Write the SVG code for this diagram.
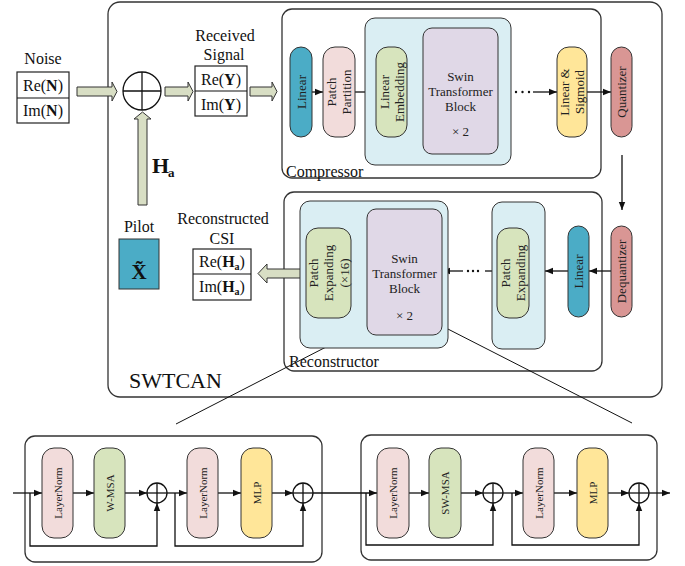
<svg xmlns="http://www.w3.org/2000/svg" width="685" height="566" viewBox="0 0 685 566">
<defs>
<marker id="ah" markerWidth="8" markerHeight="8" refX="8" refY="4" orient="auto" markerUnits="userSpaceOnUse"><path d="M0,0.8 L8,4 L0,7.2 z" fill="#111"/></marker>
</defs>
<style>
text{font-family:"Liberation Serif","Times New Roman",serif;fill:#111}
.t16{font-size:16px}
.c{text-anchor:middle}
.pill{stroke:#333;stroke-width:1}
.blue{fill:#4BACC6}
.pink{fill:#F2DCDB}
.green{fill:#D7E4BD}
.purple{fill:#E0D8E7}
.yellow{fill:#FFE699}
.red{fill:#D99694}
.lb{fill:#DAEEF3;stroke:#333;stroke-width:1}
.frame{fill:none;stroke:#333;stroke-width:1.3}
.box{fill:#fff;stroke:#222;stroke-width:1.2}
.ln{stroke:#111;stroke-width:1.3;fill:none}
.ar{stroke:#111;stroke-width:1.3;fill:none;marker-end:url(#ah)}
.barrow{fill:#D8DEC4;stroke:#333;stroke-width:1}
.pt{font-size:13px;text-anchor:middle;fill:#222}
.bt{font-size:11px;text-anchor:middle;fill:#222}
.sum{fill:#fff;stroke:#111;stroke-width:1.3}
</style>

<!-- frames -->
<g id="swtcan">
<rect class="frame" x="108" y="2" width="554" height="395" rx="12"/>
<text x="129" y="388" style="font-size:22px">SWTCAN</text>
</g>
<g id="compressor">
<rect class="frame" x="282" y="9" width="319" height="169" rx="10"/>
<text class="t16" x="286" y="177">Compressor</text>
</g>
<g id="reconstructor">
<rect class="frame" x="284" y="192" width="318" height="179" rx="10"/>
<text class="t16" x="289" y="367">Reconstructor</text>
</g>
<g id="block1-frame"><rect class="frame" x="25" y="436" width="297" height="126" rx="10"/></g>
<g id="block2-frame"><rect class="frame" x="361" y="435" width="296" height="125" rx="10"/></g>

<!-- connectors -->
<g id="connectors">
<path class="barrow" d="M77,87 H112 V82 L117,91.5 L112,101 V96 H77 Z"/>
<path class="barrow" d="M165,87 H188 V82 L193,91.5 L188,101 V96 H165 Z"/>
<path class="barrow" d="M250,87 H272 V82 L277,91.5 L272,101 V96 H250 Z"/>
<path class="barrow" d="M138,205 V119 H134 L142.5,112 L151,119 H147 V205 Z"/>
<!-- compressor arrows -->
<line class="ar" x1="312" y1="92" x2="323" y2="92"/>
<line class="ar" x1="355" y1="92" x2="376" y2="92"/>
<line class="ar" x1="407" y1="92" x2="423" y2="92"/>
<circle cx="516" cy="92" r="1.2" fill="#111"/><circle cx="522.5" cy="92" r="1.2" fill="#111"/><circle cx="529" cy="92" r="1.2" fill="#111"/>
<line class="ar" x1="533" y1="92" x2="557" y2="92"/>
<line class="ar" x1="587" y1="92" x2="611" y2="92"/>
<line class="ar" x1="622" y1="155" x2="622" y2="210"/>
<!-- reconstructor arrows -->
<line class="ar" x1="611" y1="271" x2="589" y2="271"/>
<line class="ar" x1="568" y1="271" x2="545" y2="271"/>
<line class="ln" x1="492" y1="271" x2="485" y2="271"/>
<circle cx="478" cy="271" r="1.2" fill="#111"/><circle cx="473" cy="271" r="1.2" fill="#111"/><circle cx="468" cy="271" r="1.2" fill="#111"/>
<line class="ar" x1="463" y1="271" x2="442" y2="271"/>
<line class="ar" x1="367" y1="271" x2="351" y2="271"/>
<path class="barrow" d="M308,269 H267 V264 L258,273.5 L267,283 V278 H308 Z"/>
<!-- zoom lines -->
<line class="ln" x1="367" y1="326" x2="176" y2="424" style="stroke-width:1"/>
<line class="ln" x1="442" y1="326" x2="632" y2="423" style="stroke-width:1"/>
<!-- block 1 -->
<line class="ar" x1="13" y1="493" x2="42" y2="493"/>
<path class="ar" d="M30,493 V546 H157 V503"/>
<line class="ar" x1="73" y1="493" x2="94" y2="493"/>
<line class="ar" x1="125" y1="493" x2="147" y2="493"/>
<line class="ar" x1="167" y1="493" x2="187" y2="493"/>
<path class="ar" d="M175,493 V546 H303 V503"/>
<line class="ar" x1="218" y1="493" x2="241" y2="493"/>
<line class="ar" x1="272" y1="493" x2="293" y2="493"/>
<line class="ar" x1="313" y1="493" x2="377" y2="493"/>
<!-- block 2 -->
<path class="ar" d="M366,493 V545 H493 V503"/>
<line class="ar" x1="409" y1="493" x2="429" y2="493"/>
<line class="ar" x1="461" y1="493" x2="483" y2="493"/>
<line class="ar" x1="503" y1="493" x2="523" y2="493"/>
<path class="ar" d="M512,493 V545 H639 V503"/>
<line class="ar" x1="554" y1="493" x2="577" y2="493"/>
<line class="ar" x1="608" y1="493" x2="629" y2="493"/>
<line class="ar" x1="649" y1="493" x2="670" y2="493"/>
</g>

<!-- inputs / outputs -->
<g id="noise">
<text class="t16 c" x="43" y="64">Noise</text>
<rect class="box" x="17" y="72" width="52" height="51"/>
<line class="ln" x1="17" y1="98" x2="69" y2="98" style="stroke-width:1.2"/>
<text class="t16 c" x="43" y="91">Re(<tspan font-weight="bold">N</tspan>)</text>
<text class="t16 c" x="43" y="116">Im(<tspan font-weight="bold">N</tspan>)</text>
</g>
<g id="adder">
<circle class="sum" cx="142" cy="91" r="19"/>
<line class="ln" x1="123" y1="91" x2="161" y2="91"/>
<line class="ln" x1="142" y1="72" x2="142" y2="110"/>
</g>
<g id="ha-label">
<text x="152" y="173" style="font-size:22px;font-weight:bold">H</text>
<text x="168" y="177" style="font-size:13px;font-weight:bold">a</text>
</g>
<g id="received">
<text class="t16 c" x="225" y="41">Received</text>
<text class="t16 c" x="224" y="60">Signal</text>
<rect class="box" x="195" y="66" width="52" height="50"/>
<line class="ln" x1="195" y1="91" x2="247" y2="91" style="stroke-width:1.2"/>
<text class="t16 c" x="221" y="85">Re(<tspan font-weight="bold">Y</tspan>)</text>
<text class="t16 c" x="221" y="110">Im(<tspan font-weight="bold">Y</tspan>)</text>
</g>
<g id="pilot">
<text class="t16 c" x="139" y="232">Pilot</text>
<rect x="119" y="239" width="40" height="50" fill="#4BACC6" stroke="#333" stroke-width="1"/>
<text class="c" x="139" y="279" style="font-size:21px;font-weight:bold">X̃</text>
</g>
<g id="csi">
<text class="t16 c" x="223" y="224">Reconstructed</text>
<text class="t16 c" x="222" y="244">CSI</text>
<rect class="box" x="193" y="249" width="58" height="51"/>
<line class="ln" x1="193" y1="274" x2="251" y2="274" style="stroke-width:1.2"/>
<text class="t16 c" x="222" y="267">Re(<tspan font-weight="bold">H</tspan><tspan font-weight="bold" font-size="10" dy="3">a</tspan><tspan dy="-3">)</tspan></text>
<text class="t16 c" x="222" y="292">Im(<tspan font-weight="bold">H</tspan><tspan font-weight="bold" font-size="10" dy="3">a</tspan><tspan dy="-3">)</tspan></text>
</g>

<!-- compressor nodes -->
<g id="c-lb"><rect class="lb" x="365" y="18" width="146" height="147" rx="10"/></g>
<g id="c-linear">
<rect class="pill blue" x="290" y="47" width="22" height="90" rx="11"/>
<text class="pt" transform="translate(301,92) rotate(-90)" y="4.5">Linear</text>
</g>
<g id="c-patch-partition">
<rect class="pill pink" x="323" y="47" width="32" height="90" rx="12"/>
<text class="pt" transform="translate(339,92) rotate(-90)"><tspan x="0" y="-3">Patch</tspan><tspan x="0" y="12">Partition</tspan></text>
</g>
<g id="c-linear-embedding">
<rect class="pill green" x="376" y="47" width="31" height="90" rx="12"/>
<text class="pt" transform="translate(391.5,92) rotate(-90)"><tspan x="0" y="-3">Linear</tspan><tspan x="0" y="12">Embedding</tspan></text>
</g>
<g id="c-swin">
<rect class="pill purple" x="423" y="28" width="75" height="126" rx="9"/>
<text class="pt" x="460.5" y="80.5">Swin</text>
<text class="pt" x="460.5" y="95.5">Transformer</text>
<text class="pt" x="460.5" y="110.5">Block</text>
<text class="pt" x="460.5" y="135.5">× 2</text>
</g>
<g id="c-linear-sigmoid">
<rect class="pill yellow" x="557" y="47" width="30" height="90" rx="12"/>
<text class="pt" transform="translate(572,92) rotate(-90)"><tspan x="0" y="-3">Linear &amp;</tspan><tspan x="0" y="12">Sigmoid</tspan></text>
</g>
<g id="quantizer">
<rect class="pill red" x="611" y="47" width="21" height="90" rx="10.5"/>
<text class="pt" transform="translate(621.5,92) rotate(-90)" y="4.5">Quantizer</text>
</g>

<!-- reconstructor nodes -->
<g id="r-lb-left"><rect class="lb" x="300" y="201" width="148" height="147" rx="10"/></g>
<g id="r-patch-expanding16">
<rect class="pill green" x="306" y="228" width="45" height="90" rx="12"/>
<text class="pt" transform="translate(328.5,273) rotate(-90)"><tspan x="0" y="-11">Patch</tspan><tspan x="0" y="4.5">Expanding</tspan><tspan x="0" y="20.5">(×16)</tspan></text>
</g>
<g id="r-swin">
<rect class="pill purple" x="367" y="209" width="75" height="126" rx="9"/>
<text class="pt" x="404.5" y="262.5">Swin</text>
<text class="pt" x="404.5" y="277.5">Transformer</text>
<text class="pt" x="404.5" y="292.5">Block</text>
<text class="pt" x="404.5" y="319.5">× 2</text>
</g>
<g id="r-lb-right"><rect class="lb" x="492" y="202" width="53" height="147" rx="10"/></g>
<g id="r-patch-expanding">
<rect class="pill green" x="497" y="228" width="32" height="90" rx="12"/>
<text class="pt" transform="translate(513,273) rotate(-90)"><tspan x="0" y="-3">Patch</tspan><tspan x="0" y="12">Expanding</tspan></text>
</g>
<g id="r-linear">
<rect class="pill blue" x="568" y="226" width="21" height="91" rx="10.5"/>
<text class="pt" transform="translate(578.5,271.5) rotate(-90)" y="4.5">Linear</text>
</g>
<g id="dequantizer">
<rect class="pill red" x="611" y="226" width="21" height="91" rx="10.5"/>
<text class="pt" transform="translate(621.5,271.5) rotate(-90)" y="4.5">Dequantizer</text>
</g>

<!-- block 1 nodes -->
<g id="b1-layernorm1">
<rect class="pill pink" x="42" y="448" width="31" height="90" rx="12"/>
<text class="bt" transform="translate(57.5,493) rotate(-90)" y="4">LayerNorm</text>
</g>
<g id="b1-wmsa">
<rect class="pill green" x="94" y="448" width="31" height="90" rx="12"/>
<text class="bt" transform="translate(109.5,493) rotate(-90)" y="4">W-MSA</text>
</g>
<g id="b1-sum1"><circle class="sum" cx="157" cy="493" r="10"/><line class="ln" x1="147" y1="493" x2="167" y2="493"/><line class="ln" x1="157" y1="483" x2="157" y2="503"/></g>
<g id="b1-layernorm2">
<rect class="pill pink" x="187" y="448" width="31" height="90" rx="12"/>
<text class="bt" transform="translate(202.5,493) rotate(-90)" y="4">LayerNorm</text>
</g>
<g id="b1-mlp">
<rect class="pill yellow" x="241" y="448" width="31" height="90" rx="12"/>
<text class="bt" transform="translate(256.5,493) rotate(-90)" y="4">MLP</text>
</g>
<g id="b1-sum2"><circle class="sum" cx="303" cy="493" r="10"/><line class="ln" x1="293" y1="493" x2="313" y2="493"/><line class="ln" x1="303" y1="483" x2="303" y2="503"/></g>

<!-- block 2 nodes -->
<g id="b2-layernorm1">
<rect class="pill pink" x="377" y="448" width="32" height="90" rx="12"/>
<text class="bt" transform="translate(393,493) rotate(-90)" y="4">LayerNorm</text>
</g>
<g id="b2-swmsa">
<rect class="pill green" x="429" y="448" width="32" height="90" rx="12"/>
<text class="bt" transform="translate(445,493) rotate(-90)" y="4">SW-MSA</text>
</g>
<g id="b2-sum1"><circle class="sum" cx="493" cy="493" r="10"/><line class="ln" x1="483" y1="493" x2="503" y2="493"/><line class="ln" x1="493" y1="483" x2="493" y2="503"/></g>
<g id="b2-layernorm2">
<rect class="pill pink" x="523" y="448" width="31" height="90" rx="12"/>
<text class="bt" transform="translate(538.5,493) rotate(-90)" y="4">LayerNorm</text>
</g>
<g id="b2-mlp">
<rect class="pill yellow" x="577" y="448" width="31" height="90" rx="12"/>
<text class="bt" transform="translate(592.5,493) rotate(-90)" y="4">MLP</text>
</g>
<g id="b2-sum2"><circle class="sum" cx="639" cy="493" r="10"/><line class="ln" x1="629" y1="493" x2="649" y2="493"/><line class="ln" x1="639" y1="483" x2="639" y2="503"/></g>
</svg>
